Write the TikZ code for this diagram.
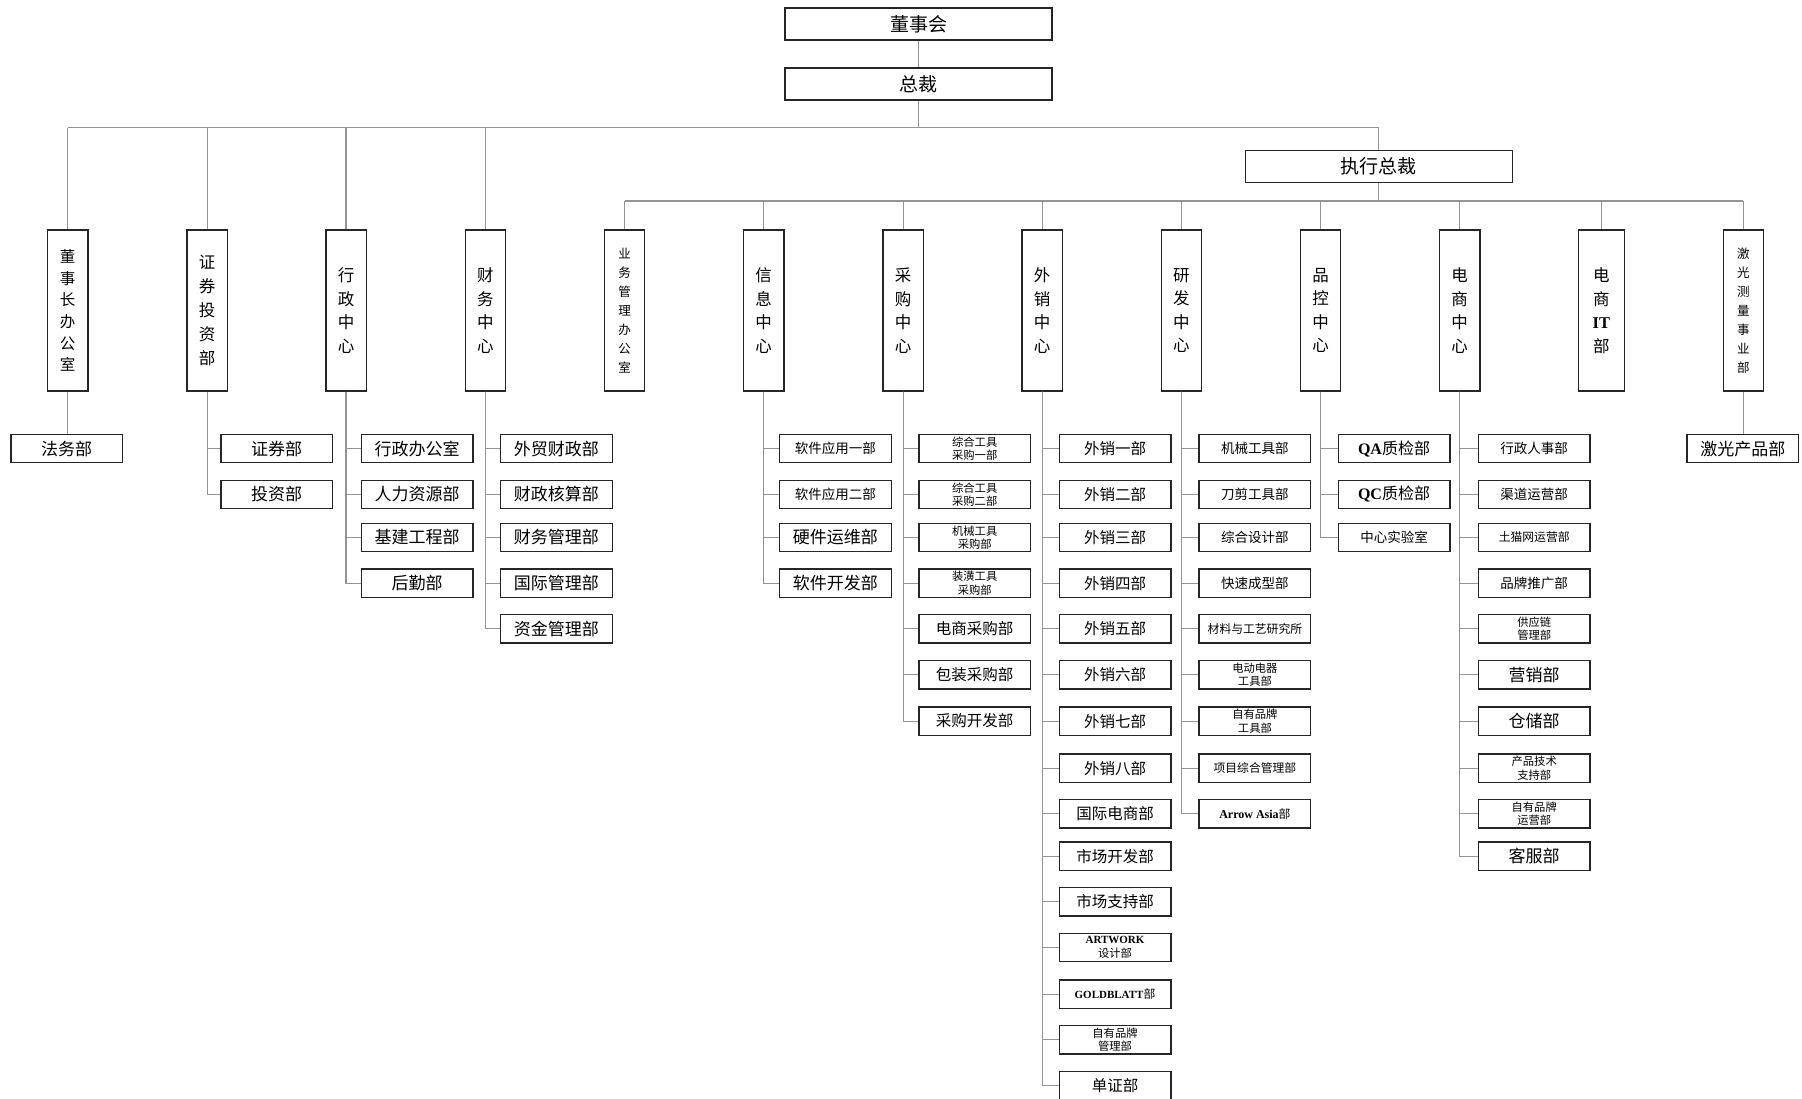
\documentclass[tikz,border=0pt]{standalone}
\usepackage{fontspec}
\newfontfamily\cjk{Noto Sans CJK SC}
\newfontfamily\lat{Liberation Serif}
\newcommand\myfs[2]{\fontsize{#1}{#2}\selectfont}
\tikzset{
  conn/.style={draw=black!42, line width=1.1pt},
  box/.style={draw=black!85, line width=1.3pt, fill=white, inner sep=0pt, align=center},
  topbox/.style={box, minimum width=267pt, minimum height=32pt, font=\cjk\myfs{19}{19}},
  vbox/.style={box, minimum width=40.3pt, minimum height=161pt, font=\cjk\myfs{16.5}{23.5}},
  vsix/.style={vbox, font=\cjk\myfs{15.5}{21.7}},
  vseven/.style={vbox, font=\cjk\myfs{12.5}{19}},
  cbox/.style={box, minimum width=111.7pt, minimum height=28.3pt},
  cbig/.style={cbox, font=\cjk\myfs{17}{17}},
  cmid/.style={cbox, font=\cjk\myfs{15.5}{15.5}},
  csml/.style={cbox, font=\cjk\myfs{13.5}{13.5}},
  ctny/.style={cbox, font=\cjk\myfs{11.8}{11.8}},
  ctwo/.style={cbox, font=\cjk\myfs{11.3}{13.3}},
}
\begin{document}
\begin{tikzpicture}[x=1pt,y=-1pt]
\useasboundingbox[fill=white] (0,0) rectangle (1802,1099);

% top level
\node[topbox] (dsh) at (918.5,24) {董事会};
\node[topbox] (zc) at (918.5,84) {总裁};
\node[topbox] (exec) at (1378.8,166.6) {执行总裁};

% vertical boxes
\node[vsix] (v1) at (67.7,310.5) {董\\事\\长\\办\\公\\室};
\node[vbox, font=\cjk\myfs{16.5}{24}] (v2) at (207.2,310.5) {证\\券\\投\\资\\部};
\node[vbox] (v3) at (346,310.5) {行\\政\\中\\心};
\node[vbox] (v4) at (485.4,310.5) {财\\务\\中\\心};
\node[vseven] (v5) at (624.5,310.5) {业\\务\\管\\理\\办\\公\\室};
\node[vbox] (v6) at (763.7,310.5) {信\\息\\中\\心};
\node[vbox] (v7) at (903.2,310.5) {采\\购\\中\\心};
\node[vbox] (v8) at (1042.1,310.5) {外\\销\\中\\心};
\node[vbox] (v9) at (1181.3,310.5) {研\\发\\中\\心};
\node[vbox] (v10) at (1320.5,310.5) {品\\控\\中\\心};
\node[vbox] (v11) at (1459.7,310.5) {电\\商\\中\\心};
\node[vbox, minimum width=46pt] (v12) at (1601.3,310.5) {电\\商\\{\lat\bfseries IT}\\部};
\node[vseven] (v13) at (1743.3,310.5) {激\\光\\测\\量\\事\\业\\部};

% children
\node[cbig] (fw) at (66.7,448.6) {法务部};
\node[cbig] (jg) at (1742.9,448.6) {激光产品部};

\node[cbig] (zq1) at (276.7,448.6) {证券部};
\node[cbig] (zq2) at (276.7,494.4) {投资部};

\node[cbig] (xz1) at (417,448.6) {行政办公室};
\node[cbig] (xz2) at (417,494.4) {人力资源部};
\node[cbig] (xz3) at (417,537.4) {基建工程部};
\node[cbig] (xz4) at (417,583.1) {后勤部};

\node[cbig] (cw1) at (556.3,448.6) {外贸财政部};
\node[cbig] (cw2) at (556.3,494.4) {财政核算部};
\node[cbig] (cw3) at (556.3,537.4) {财务管理部};
\node[cbig] (cw4) at (556.3,583.1) {国际管理部};
\node[cbig] (cw5) at (556.3,628.8) {资金管理部};

\node[csml] (xx1) at (835.4,448.6) {软件应用一部};
\node[csml] (xx2) at (835.4,494.4) {软件应用二部};
\node[cbig] (xx3) at (835.4,537.4) {硬件运维部};
\node[cbig] (xx4) at (835.4,583.1) {软件开发部};

\node[ctwo] (cg1) at (974.7,448.6) {综合工具\\采购一部};
\node[ctwo] (cg2) at (974.7,494.4) {综合工具\\采购二部};
\node[ctwo] (cg3) at (974.7,537.4) {机械工具\\采购部};
\node[ctwo] (cg4) at (974.7,583.1) {装潢工具\\采购部};
\node[cmid] (cg5) at (974.7,628.8) {电商采购部};
\node[cmid] (cg6) at (974.7,674.8) {包装采购部};
\node[cmid] (cg7) at (974.7,721.1) {采购开发部};

\node[cmid] (wx1) at (1115,448.6) {外销一部};
\node[cmid] (wx2) at (1115,494.4) {外销二部};
\node[cmid] (wx3) at (1115,537.4) {外销三部};
\node[cmid] (wx4) at (1115,583.1) {外销四部};
\node[cmid] (wx5) at (1115,628.8) {外销五部};
\node[cmid] (wx6) at (1115,674.8) {外销六部};
\node[cmid] (wx7) at (1115,721.1) {外销七部};
\node[cmid] (wx8) at (1115,768.1) {外销八部};
\node[cmid] (wx9) at (1115,813.8) {国际电商部};
\node[cmid] (wx10) at (1115,856.1) {市场开发部};
\node[cmid] (wx11) at (1115,901.8) {市场支持部};
\node[ctwo] (wx12) at (1115,947.4) {{\lat\bfseries\myfs{11}{11}ARTWORK}\\设计部};
\node[ctny] (wx13) at (1115,994.1) {{\lat\bfseries\myfs{11}{11}GOLDBLATT}部};
\node[ctwo] (wx14) at (1115,1039.8) {自有品牌\\管理部};
\node[cmid] (wx15) at (1115,1085.8) {单证部};

\node[csml] (yf1) at (1254.9,448.6) {机械工具部};
\node[csml] (yf2) at (1254.9,494.4) {刀剪工具部};
\node[csml] (yf3) at (1254.9,537.4) {综合设计部};
\node[csml] (yf4) at (1254.9,583.1) {快速成型部};
\node[ctny] (yf5) at (1254.9,628.8) {材料与工艺研究所};
\node[ctwo] (yf6) at (1254.9,674.8) {电动电器\\工具部};
\node[ctwo] (yf7) at (1254.9,721.1) {自有品牌\\工具部};
\node[ctny] (yf8) at (1254.9,768.1) {项目综合管理部};
\node[ctny] (yf9) at (1254.9,813.8) {{\lat\bfseries\myfs{12}{12}Arrow Asia}部};

\node[cbox, font=\cjk\myfs{16}{16}] (pk1) at (1394,448.6) {{\lat\bfseries QA}质检部};
\node[cbox, font=\cjk\myfs{16}{16}] (pk2) at (1394,494.4) {{\lat\bfseries QC}质检部};
\node[csml] (pk3) at (1394,537.4) {中心实验室};

\node[csml] (ds1) at (1534.2,448.6) {行政人事部};
\node[csml] (ds2) at (1534.2,494.4) {渠道运营部};
\node[ctny] (ds3) at (1534.2,537.4) {土猫网运营部};
\node[csml] (ds4) at (1534.2,583.1) {品牌推广部};
\node[ctwo] (ds5) at (1534.2,628.8) {供应链\\管理部};
\node[cbig] (ds6) at (1534.2,674.8) {营销部};
\node[cbig] (ds7) at (1534.2,721.1) {仓储部};
\node[ctwo] (ds8) at (1534.2,768.1) {产品技术\\支持部};
\node[ctwo] (ds9) at (1534.2,813.8) {自有品牌\\运营部};
\node[cbig] (ds10) at (1534.2,856.1) {客服部};

% connectors
\coordinate (busA) at (0,127.6);
\coordinate (busB) at (0,201);
\draw[conn] (dsh) -- (zc);
\draw[conn] (zc.south) -- (zc.south |- busA);
\draw[conn] (v1.north |- busA) -- (exec.north |- busA);
\draw[conn] (exec.north |- busA) -- (exec.north);
\foreach \n in {v1,v2,v3,v4} \draw[conn] (\n.north |- busA) -- (\n.north);
\draw[conn] (exec.south) -- (exec.south |- busB);
\draw[conn] (v5.north |- busB) -- (v13.north |- busB);
\foreach \n in {v5,v6,v7,v8,v9,v10,v11,v12,v13} \draw[conn] (\n.north |- busB) -- (\n.north);

\draw[conn] (v1.south) -- (v1.south |- fw.north);
\draw[conn] (v13.south) -- (v13.south |- jg.north);
\foreach \c in {zq1,zq2} \draw[conn] (v2.south) |- (\c.west);
\foreach \c in {xz1,xz2,xz3,xz4} \draw[conn] (v3.south) |- (\c.west);
\foreach \c in {cw1,cw2,cw3,cw4,cw5} \draw[conn] (v4.south) |- (\c.west);
\foreach \c in {xx1,xx2,xx3,xx4} \draw[conn] (v6.south) |- (\c.west);
\foreach \c in {cg1,cg2,cg3,cg4,cg5,cg6,cg7} \draw[conn] (v7.south) |- (\c.west);
\foreach \c in {wx1,wx2,wx3,wx4,wx5,wx6,wx7,wx8,wx9,wx10,wx11,wx12,wx13,wx14,wx15} \draw[conn] (v8.south) |- (\c.west);
\foreach \c in {yf1,yf2,yf3,yf4,yf5,yf6,yf7,yf8,yf9} \draw[conn] (v9.south) |- (\c.west);
\foreach \c in {pk1,pk2,pk3} \draw[conn] (v10.south) |- (\c.west);
\foreach \c in {ds1,ds2,ds3,ds4,ds5,ds6,ds7,ds8,ds9,ds10} \draw[conn] (v11.south) |- (\c.west);
\end{tikzpicture}
\end{document}
